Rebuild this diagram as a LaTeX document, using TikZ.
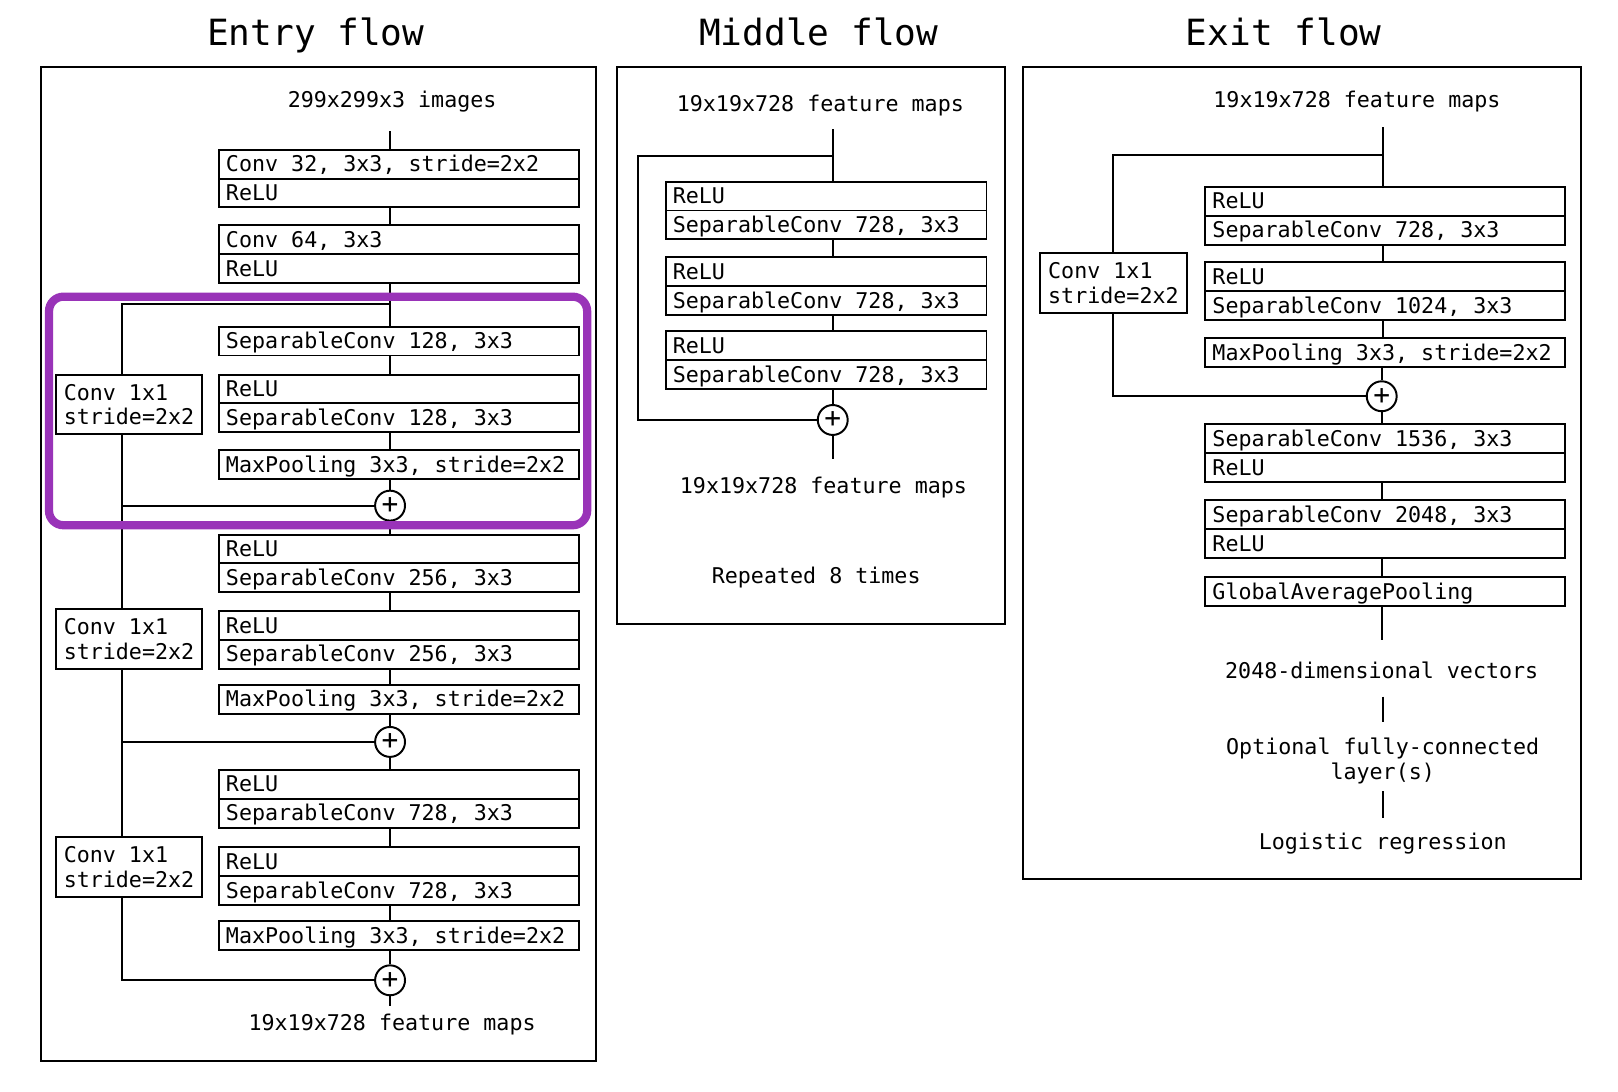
\documentclass[tikz,border=0pt]{standalone}
\usepackage{fontspec}
\setmonofont{DejaVu Sans Mono}
\newcommand{\xboxfont}{\ttfamily\fontsize{21}{24}\selectfont}
\newcommand{\xplusfont}{\ttfamily\fontsize{27}{30}\selectfont}
\newcommand{\xtitlefont}{\ttfamily\fontsize{35}{42}\selectfont}
\definecolor{hl}{RGB}{153,51,184}
\begin{document}
\begin{tikzpicture}[x=1pt,y=-1pt,
  lw/.style={line width=1.9pt},
  conn/.style={lw},
  panel/.style={draw,lw},
  layer/.style={draw,lw,rectangle,minimum height=28pt,inner xsep=7pt,inner ysep=0pt,
    font=\xboxfont,text height=15pt,text depth=0pt},
  wide/.style={layer,execute at begin node={\hbox to 335pt\bgroup},execute at end node={\hfil\egroup}},
  midbox/.style={layer,execute at begin node={\hbox to 297pt\bgroup},execute at end node={\hfil\egroup}},
  skipbox/.style={draw,lw,minimum width=142pt,inner xsep=7pt,inner ysep=0pt,minimum height=58pt,
    align=left,font=\xboxfont},
  lbl/.style={font=\xboxfont,inner sep=0pt,text height=15pt,text depth=4pt},
  ttl/.style={font=\xtitlefont,inner sep=0pt},
  addop/.style={circle,draw,lw,minimum size=29pt,inner sep=0pt,font=\xplusfont},
  hlbox/.style={draw=hl,line width=8pt,rounded corners=14pt}
]
\useasboundingbox (0,0) rectangle (1568,1058);

% ================= Entry flow =================
\node[ttl,anchor=base] (tEntry) at (306,44) {Entry flow};
\draw[panel] (40,65) rectangle (578,1028);
\coordinate (tE) at (378,0);
\coordinate (sk) at (118,0);
\node[lbl,anchor=base] (img) at (380,104) {299x299x3 images};

\node[wide] (e1a) at (386.5,159) {Conv 32, 3x3, stride=2x2};
\node[wide] (e1b) at (386.5,187) {ReLU};
\node[wide] (e2a) at (386.5,232) {Conv 64, 3x3};
\node[wide] (e2b) at (386.5,260) {ReLU};
\node[wide] (e3)  at (386.5,330.5) {SeparableConv 128, 3x3};
\node[wide] (e4a) at (386.5,377) {ReLU};
\node[wide] (e4b) at (386.5,405) {SeparableConv 128, 3x3};
\node[wide] (e5)  at (386.5,450) {MaxPooling 3x3, stride=2x2};
\node[addop] (p1) at (378,490) {+};
\node[skipbox] (c1) at (125,392) {Conv 1x1\\stride=2x2};

\node[wide] (e6a) at (386.5,532) {ReLU};
\node[wide] (e6b) at (386.5,560) {SeparableConv 256, 3x3};
\node[wide] (e7a) at (386.5,606) {ReLU};
\node[wide] (e7b) at (386.5,634) {SeparableConv 256, 3x3};
\node[wide] (e8)  at (386.5,677.5) {MaxPooling 3x3, stride=2x2};
\node[addop] (p2) at (378,719) {+};
\node[skipbox] (c2) at (125,619) {Conv 1x1\\stride=2x2};

\node[wide] (e9a) at (386.5,760) {ReLU};
\node[wide] (e9b) at (386.5,788) {SeparableConv 728, 3x3};
\node[wide] (e10a) at (386.5,835) {ReLU};
\node[wide] (e10b) at (386.5,863) {SeparableConv 728, 3x3};
\node[wide] (e11) at (386.5,906.5) {MaxPooling 3x3, stride=2x2};
\node[addop] (p3) at (378,950) {+};
\node[skipbox] (c3) at (125,840) {Conv 1x1\\stride=2x2};
\node[lbl,anchor=base] (eOut) at (380,999) {19x19x728 feature maps};

\coordinate (jE1) at (378,295);
\draw[conn,shorten <=19pt] (img.south -| tE) -- (e1a.north -| tE);
\draw[conn] (e1b.south -| tE) -- (e2a.north -| tE);
\draw[conn] (e2b.south -| tE) -- (e3.north -| tE);
\draw[conn] (jE1) -| (c1.north -| sk);
\draw[conn] (e3.south -| tE) -- (e4a.north -| tE);
\draw[conn] (e4b.south -| tE) -- (e5.north -| tE);
\draw[conn] (e5.south -| p1) -- (p1);
\draw[conn] (c1.south -| sk) |- (p1);
\draw[conn] (p1) -- (e6a.north -| p1);
\draw[conn] (p1.west -| sk) -- (c2.north -| sk);
\draw[conn] (e6b.south -| tE) -- (e7a.north -| tE);
\draw[conn] (e7b.south -| tE) -- (e8.north -| tE);
\draw[conn] (e8.south -| p2) -- (p2);
\draw[conn] (c2.south -| sk) |- (p2);
\draw[conn] (p2) -- (e9a.north -| p2);
\draw[conn] (p2.west -| sk) -- (c3.north -| sk);
\draw[conn] (e9b.south -| tE) -- (e10a.north -| tE);
\draw[conn] (e10b.south -| tE) -- (e11.north -| tE);
\draw[conn] (e11.south -| p3) -- (p3);
\draw[conn] (c3.south -| sk) |- (p3);
\draw[conn,shorten >=9pt] (p3) -- (eOut.north -| p3);

% highlight
\draw[hlbox] (47.5,287.5) rectangle (569,509);

% ================= Middle flow =================
\node[ttl,anchor=base] (tMid) at (793.5,44) {Middle flow};
\draw[panel] (598,65) rectangle (974,605);
\coordinate (tM) at (807,0);
\coordinate (skM) at (618,0);
\node[lbl,anchor=base] (mIn) at (795,108) {19x19x728 feature maps};
\node[midbox] (m1a) at (800.5,190) {ReLU};
\node[midbox] (m1b) at (800.5,218) {SeparableConv 728, 3x3};
\node[midbox] (m2a) at (800.5,263) {ReLU};
\node[midbox] (m2b) at (800.5,291) {SeparableConv 728, 3x3};
\node[midbox] (m3a) at (800.5,335) {ReLU};
\node[midbox] (m3b) at (800.5,363) {SeparableConv 728, 3x3};
\node[addop] (pM) at (807,407) {+};
\node[lbl,anchor=base] (mOut) at (798,478) {19x19x728 feature maps};
\node[lbl,anchor=base] (rep) at (791,565) {Repeated 8 times};

\coordinate (jM) at (807,151);
\draw[conn,shorten <=13pt] (mIn.south -| tM) -- (m1a.north -| tM);
\draw[conn] (jM) -- (jM -| skM) |- (pM);
\draw[conn] (m1b.south -| tM) -- (m2a.north -| tM);
\draw[conn] (m2b.south -| tM) -- (m3a.north -| tM);
\draw[conn] (m3b.south -| tM) -- (pM);
\draw[conn,shorten >=18pt] (pM) -- (mOut.north -| pM);

% ================= Exit flow =================
\node[ttl,anchor=base] (tExit) at (1244,44) {Exit flow};
\draw[panel] (991,65) rectangle (1532,852);
\coordinate (tX) at (1340,0);
\node[lbl,anchor=base] (xIn) at (1315,104) {19x19x728 feature maps};
\node[wide] (x1a) at (1342.5,195) {ReLU};
\node[wide] (x1b) at (1342.5,223) {SeparableConv 728, 3x3};
\node[wide] (x2a) at (1342.5,268) {ReLU};
\node[wide] (x2b) at (1342.5,296) {SeparableConv 1024, 3x3};
\node[wide] (x3)  at (1342.5,341.5) {MaxPooling 3x3, stride=2x2};
\node[addop] (pX) at (1339,384) {+};
\node[skipbox] (cX) at (1079,274) {Conv 1x1\\stride=2x2};
\node[wide] (x4a) at (1342.5,425) {SeparableConv 1536, 3x3};
\node[wide] (x4b) at (1342.5,453) {ReLU};
\node[wide] (x5a) at (1342.5,499) {SeparableConv 2048, 3x3};
\node[wide] (x5b) at (1342.5,527) {ReLU};
\node[wide] (x6)  at (1342.5,573.5) {GlobalAveragePooling};
\node[lbl,anchor=base] (vec) at (1339,658) {2048-dimensional vectors};
\node[font=\xboxfont,inner sep=0pt,align=center,anchor=north] (opt) at (1340,715)
  {Optional fully-connected\\layer(s)};
\node[lbl,anchor=base] (logr) at (1340,823) {Logistic regression};

\coordinate (jX) at (1340,150);
\draw[conn,shorten <=15pt] (xIn.south -| tX) -- (x1a.north -| tX);
\draw[conn] (jX) -| (cX.north);
\draw[conn] (x1b.south -| tX) -- (x2a.north -| tX);
\draw[conn] (x2b.south -| tX) -- (x3.north -| tX);
\draw[conn] (x3.south -| pX) -- (pX);
\draw[conn] (cX.south) |- (pX);
\draw[conn] (pX) -- (x4a.north -| pX);
\draw[conn] (x4b.south -| pX) -- (x5a.north -| pX);
\draw[conn] (x5b.south -| pX) -- (x6.north -| pX);
\draw[conn,shorten >=23pt] (x6.south -| pX) -- (vec.north -| pX);
\draw[conn,shorten <=13pt,shorten >=15pt] (vec.south -| opt.north) -- (opt.north);
\draw[conn,shorten <=7pt,shorten >=15pt] (opt.south) -- (logr.north -| opt.south);
\end{tikzpicture}
\end{document}
